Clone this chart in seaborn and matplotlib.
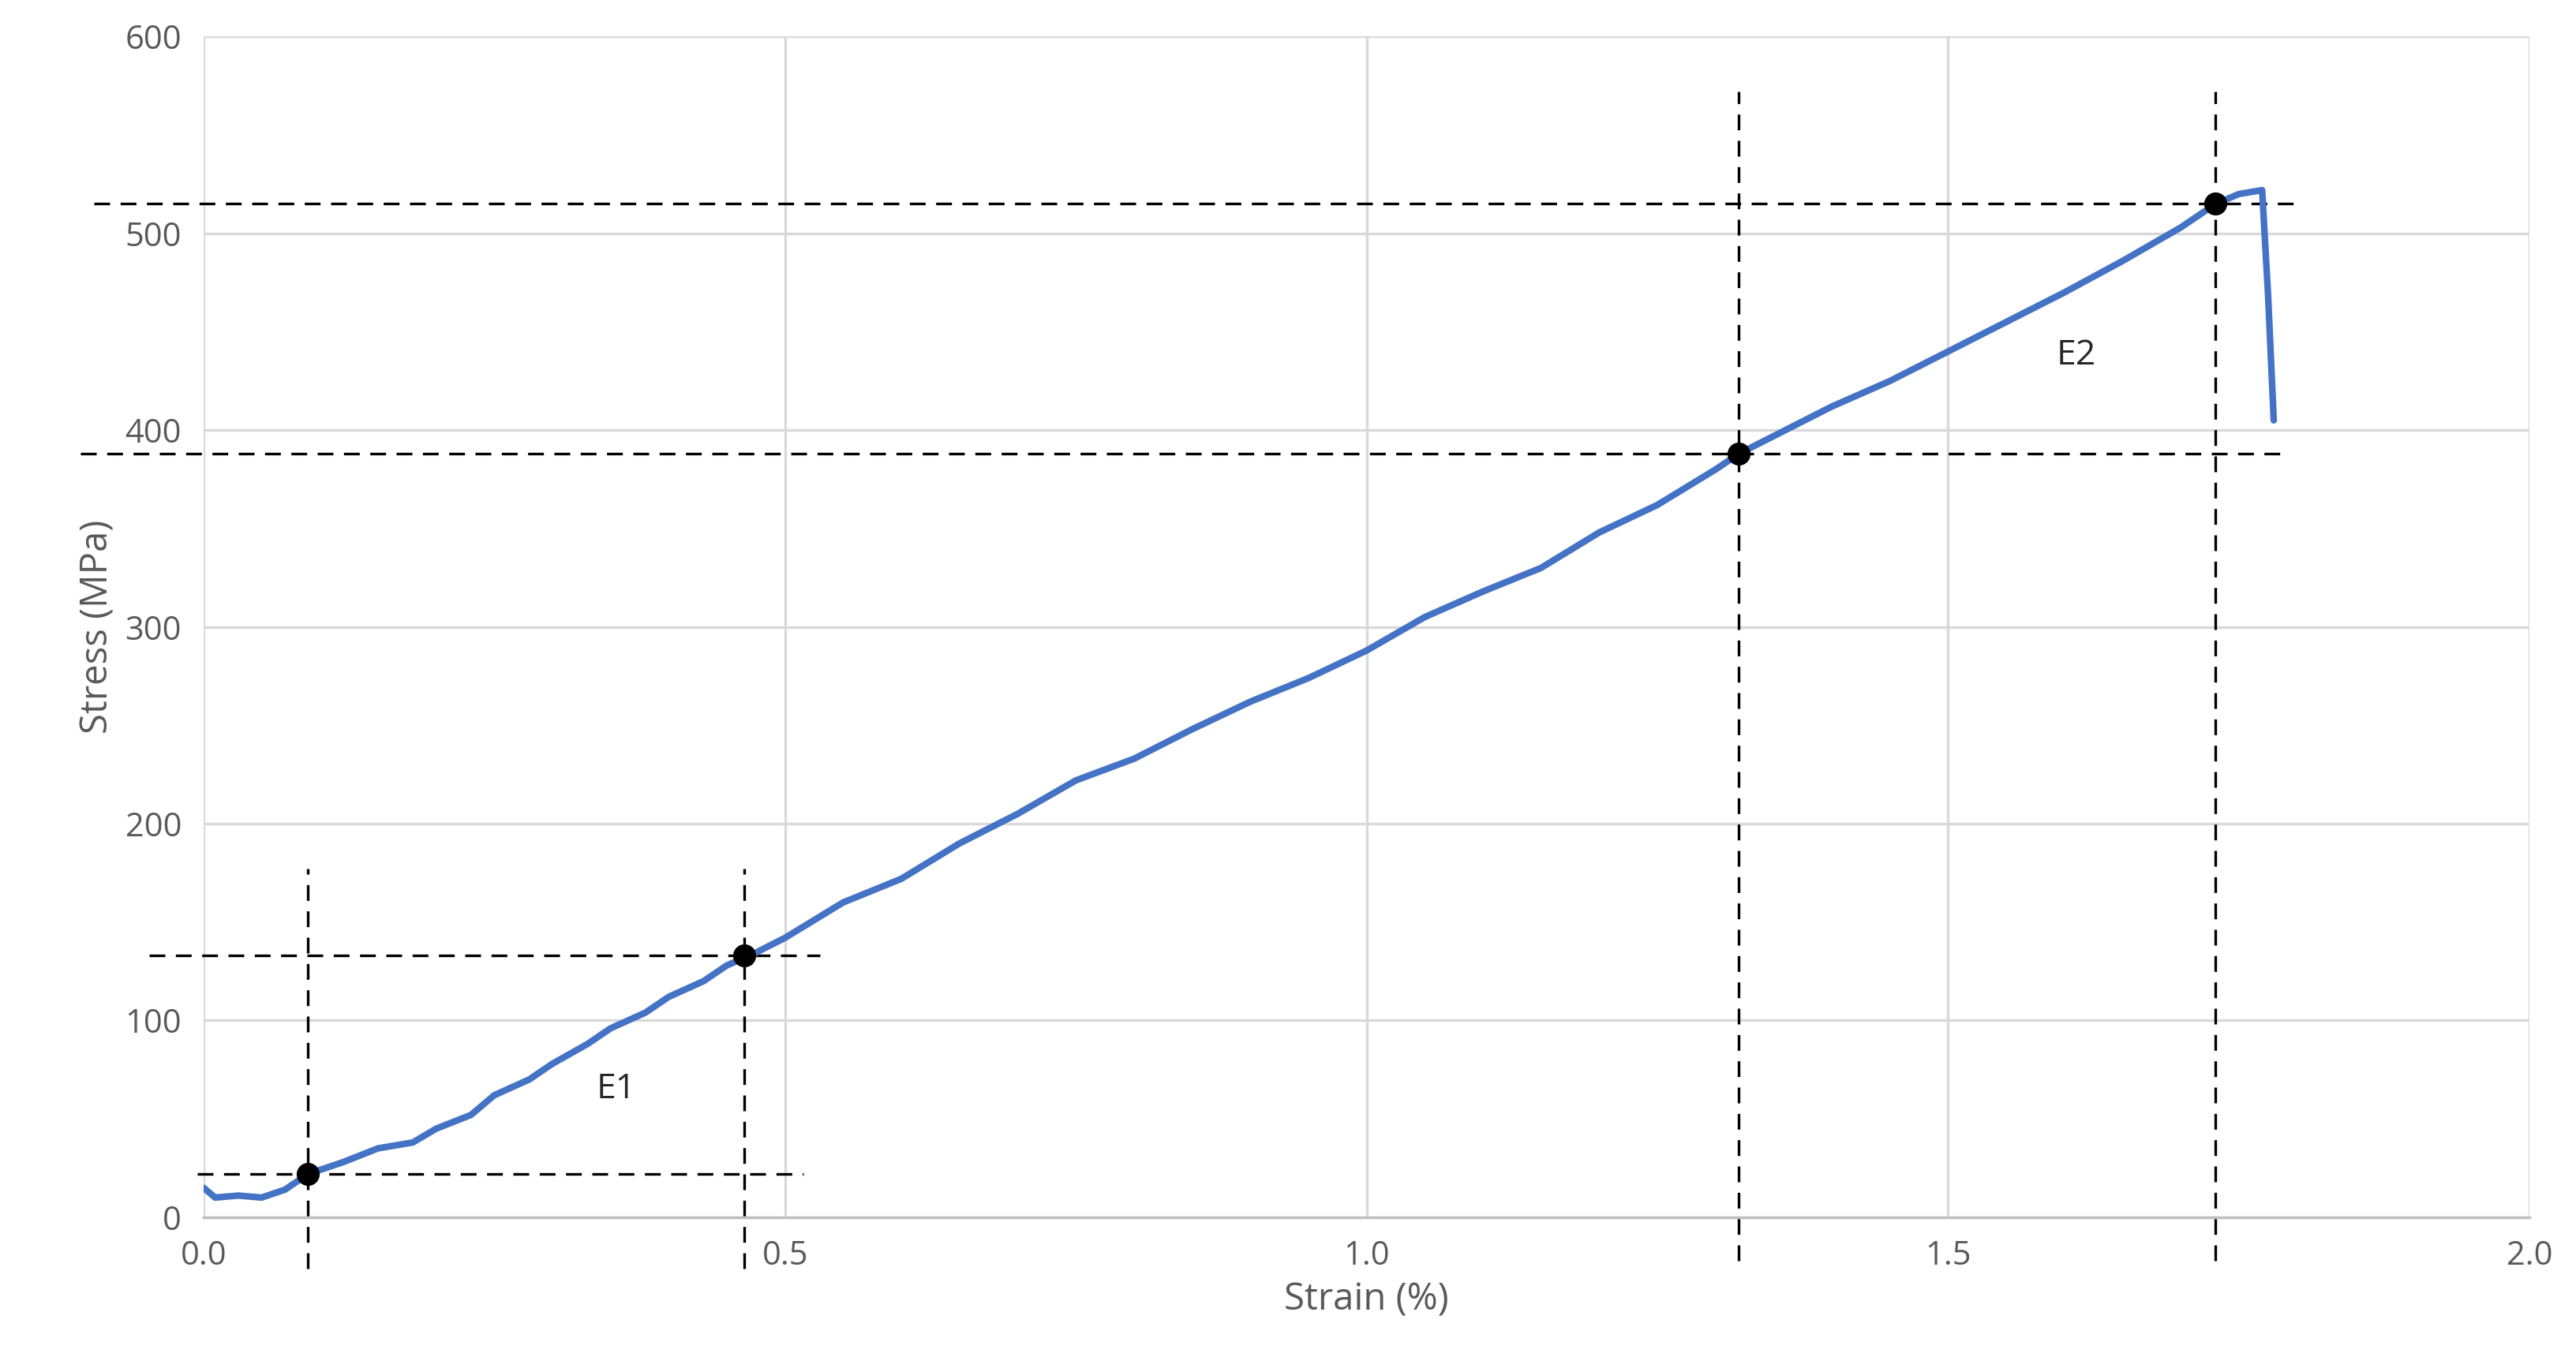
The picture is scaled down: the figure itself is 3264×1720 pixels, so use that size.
import matplotlib
matplotlib.use("Agg")
import matplotlib.pyplot as plt
import seaborn as sns
import pandas as pd

strain = [0.0,0.01,0.03,0.05,0.07,0.09,0.12,0.15,0.18,0.2,0.23,0.25,0.28,0.3,0.33,0.35,0.38,0.4,0.43,0.45,0.47,
          0.5,0.55,0.6,0.65,0.7,0.75,0.8,0.85,0.9,0.95,1.0,1.05,1.1,1.15,1.2,1.25,1.3,1.32,1.35,1.4,1.45,1.5,
          1.55,1.6,1.65,1.7,1.73,1.75,1.77,1.775,1.78]
stress = [15,10,11,10,14,22,28,35,38,45,52,62,70,78,88,96,104,112,120,128,133,
          142,160,172,190,205,222,233,248,262,274,288,305,318,330,348,362,380,388,397,412,425,440,
          455,470,486,503,515,520,522,470,405]
pts_x = [0.09, 0.465, 1.32, 1.73]
pts_y = [22, 133, 388, 515]

sns.set_theme(style="white")
plt.rcParams['font.family'] = ['Open Sans', 'DejaVu Sans']
fig, ax = plt.subplots(figsize=(16.32, 8.6), dpi=200)
fig.subplots_adjust(left=0.079, right=0.982, top=0.973, bottom=0.103)
df = pd.DataFrame({"x": strain, "y": stress})
sns.lineplot(data=df, x="x", y="y", ax=ax, color="#4472C4", lw=3, sort=False, zorder=3)

dk = dict(color="black", ls=(0, (6, 4)), lw=1.2, clip_on=False, zorder=2)
ax.plot([-0.005, 0.516], [22, 22], **dk)
ax.plot([-0.047, 0.53], [133, 133], **dk)
ax.plot([0.09, 0.09], [-26, 177], **dk)
ax.plot([0.465, 0.465], [-26, 177], **dk)
ax.plot([-0.106, 1.79], [388, 388], **dk)
ax.plot([-0.094, 1.80], [515, 515], **dk)
ax.plot([1.32, 1.32], [-22, 572], **dk)
ax.plot([1.73, 1.73], [-22, 572], **dk)
ax.scatter(pts_x, pts_y, color="black", s=90, zorder=4, clip_on=False)
ax.text(0.355, 65, "E1", fontsize=16, ha="center", va="center")
ax.text(1.61, 438, "E2", fontsize=16, ha="center", va="center")

ax.set_xlim(0, 2.0)
ax.set_ylim(0, 600)
ax.set_xticks([0, 0.5, 1.0, 1.5, 2.0])
ax.set_xticklabels(["0.0", "0.5", "1.0", "1.5", "2.0"])
ax.set_yticks(range(0, 601, 100))
ax.grid(True, color="#d9d9d9", lw=1.2)
for s in ["top", "right", "left"]:
    ax.spines[s].set_visible(False)
ax.spines["bottom"].set_color("#bfbfbf")
ax.tick_params(colors="#595959", labelsize=15, length=0, pad=10)
ax.set_xlabel("Strain (%)", fontsize=17, color="#595959", labelpad=4)
ax.set_ylabel("Stress (MPa)", fontsize=17, color="#595959", labelpad=4)
fig.savefig("out.png", dpi=200)
